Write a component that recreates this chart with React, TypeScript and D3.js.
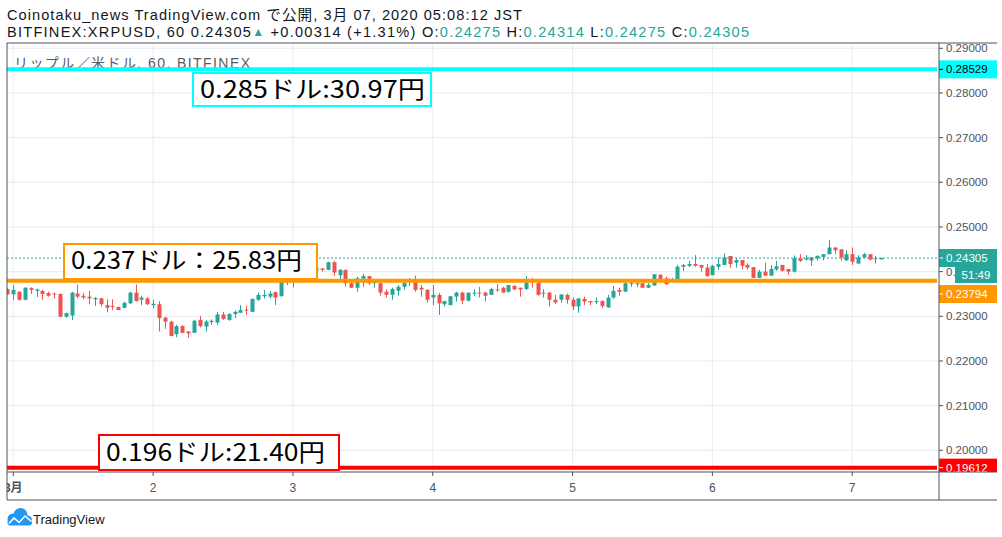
import React from "react";
import * as d3 from "d3";

// Hourly candles, first one = Feb 29 23:00 JST (hour -1 relative to Mar 1 00:00)
const FIRST_HOUR = -1;
const OPEN = [0.2361,0.2349,0.2355,0.2337,0.2363,0.2357,0.2357,0.2352,0.2351,0.2350,0.2299,0.2302,0.2351,0.2346,0.2344,0.2338,0.2340,0.2325,0.2323,0.2321,0.2319,0.2329,0.2353,0.2337,0.2340,0.2325,0.2327,0.2297,0.2288,0.2260,0.2278,0.2266,0.2263,0.2292,0.2277,0.2287,0.2286,0.2304,0.2292,0.2305,0.2308,0.2315,0.2310,0.2337,0.2345,0.2344,0.2354,0.2345,0.2385,0.2382,0.2383,0.2404,0.2398,0.2402,0.2407,0.2404,0.2421,0.2392,0.2404,0.2374,0.2364,0.2384,0.2390,0.2374,0.2374,0.2355,0.2348,0.2357,0.2366,0.2381,0.2383,0.2364,0.2359,0.2342,0.2348,0.2327,0.2325,0.2344,0.2353,0.2335,0.2352,0.2353,0.2353,0.2348,0.2360,0.2364,0.2355,0.2368,0.2364,0.2361,0.2383,0.2375,0.2352,0.2353,0.2337,0.2337,0.2348,0.2337,0.2322,0.2339,0.2334,0.2333,0.2334,0.2320,0.2342,0.2359,0.2355,0.2373,0.2373,0.2374,0.2364,0.2369,0.2393,0.2385,0.2380,0.2381,0.2411,0.2413,0.2417,0.2415,0.2409,0.2392,0.2411,0.2415,0.2435,0.2420,0.2426,0.2415,0.2410,0.2386,0.2400,0.2391,0.2405,0.2415,0.2406,0.2400,0.2430,0.2427,0.2425,0.2430,0.2433,0.2439,0.2454,0.2450,0.2425,0.2439,0.2418,0.2432,0.2439,0.2428,0.24275];
const HIGH = [0.2363,0.2370,0.2356,0.2365,0.2365,0.2362,0.2359,0.2355,0.2353,0.2351,0.2308,0.2355,0.2371,0.2352,0.2357,0.2343,0.2342,0.2338,0.2338,0.2321,0.2333,0.2355,0.2371,0.2346,0.2343,0.2337,0.2334,0.2299,0.2290,0.2281,0.2280,0.2267,0.2292,0.2301,0.2292,0.2293,0.2310,0.2310,0.2307,0.2313,0.2325,0.2323,0.2340,0.2353,0.2359,0.2357,0.2355,0.2392,0.2389,0.2389,0.2415,0.2419,0.2417,0.2420,0.2408,0.2422,0.2424,0.2406,0.2404,0.2375,0.2389,0.2395,0.2390,0.2381,0.2378,0.2360,0.2364,0.2370,0.2377,0.2386,0.2391,0.2370,0.2361,0.2370,0.2352,0.2334,0.2345,0.2355,0.2355,0.2353,0.2361,0.2366,0.2355,0.2364,0.2372,0.2366,0.2370,0.2370,0.2364,0.2390,0.2386,0.2378,0.2361,0.2355,0.2348,0.2349,0.2351,0.2342,0.2340,0.2344,0.2334,0.2342,0.2336,0.2348,0.2368,0.2364,0.2378,0.2378,0.2383,0.2374,0.2375,0.2394,0.2394,0.2389,0.2386,0.2415,0.2417,0.2424,0.2437,0.2415,0.2417,0.2415,0.2432,0.2441,0.2435,0.2430,0.2426,0.2419,0.2410,0.2404,0.2420,0.2415,0.2424,0.2415,0.2406,0.2436,0.2439,0.2437,0.2432,0.2437,0.2439,0.2471,0.2454,0.2450,0.2448,0.2454,0.2437,0.2442,0.2439,0.2435,0.24314];
const LOW = [0.2348,0.2337,0.2335,0.2336,0.2350,0.2343,0.2337,0.2344,0.2340,0.2299,0.2297,0.2292,0.2340,0.2338,0.2327,0.2323,0.2322,0.2309,0.2314,0.2314,0.2318,0.2327,0.2333,0.2325,0.2325,0.2318,0.2266,0.2272,0.2255,0.2253,0.2262,0.2252,0.2263,0.2275,0.2266,0.2281,0.2281,0.2292,0.2290,0.2296,0.2307,0.2303,0.2310,0.2335,0.2340,0.2340,0.2325,0.2344,0.2370,0.2365,0.2382,0.2395,0.2395,0.2392,0.2400,0.2403,0.2391,0.2381,0.2366,0.2363,0.2355,0.2366,0.2370,0.2364,0.2346,0.2342,0.2337,0.2346,0.2359,0.2368,0.2355,0.2344,0.2331,0.2325,0.2303,0.2322,0.2325,0.2333,0.2328,0.2333,0.2345,0.2342,0.2333,0.2348,0.2355,0.2353,0.2353,0.2360,0.2344,0.2359,0.2364,0.2346,0.2342,0.2322,0.2328,0.2330,0.2328,0.2314,0.2308,0.2325,0.2325,0.2327,0.2319,0.2319,0.2339,0.2346,0.2355,0.2366,0.2366,0.2364,0.2364,0.2369,0.2381,0.2370,0.2378,0.2381,0.2401,0.2410,0.2411,0.2400,0.2389,0.2392,0.2404,0.2415,0.2409,0.2409,0.2405,0.2405,0.2386,0.2386,0.2391,0.2391,0.2402,0.2400,0.2393,0.2398,0.2422,0.2425,0.2413,0.2425,0.2425,0.2439,0.2439,0.2425,0.2425,0.2415,0.2418,0.2430,0.2425,0.2418,0.24275];
const CLOSE = [0.2349,0.2359,0.2337,0.2364,0.2359,0.2360,0.2350,0.2346,0.2349,0.2299,0.2307,0.2353,0.2344,0.2342,0.2340,0.2341,0.2327,0.2319,0.2322,0.2314,0.2330,0.2353,0.2334,0.2342,0.2327,0.2328,0.2296,0.2288,0.2256,0.2278,0.2263,0.2262,0.2290,0.2278,0.2288,0.2290,0.2304,0.2294,0.2305,0.2310,0.2314,0.2313,0.2339,0.2348,0.2348,0.2351,0.2342,0.2385,0.2382,0.2385,0.2404,0.2396,0.2406,0.2410,0.2404,0.2421,0.2398,0.2404,0.2374,0.2364,0.2385,0.2390,0.2374,0.2377,0.2353,0.2348,0.2361,0.2366,0.2375,0.2383,0.2359,0.2360,0.2337,0.2348,0.2329,0.2334,0.2345,0.2353,0.2335,0.2353,0.2353,0.2352,0.2346,0.2361,0.2359,0.2353,0.2370,0.2360,0.2360,0.2375,0.2378,0.2348,0.2353,0.2337,0.2331,0.2349,0.2337,0.2322,0.2340,0.2333,0.2331,0.2334,0.2323,0.2342,0.2357,0.2355,0.2374,0.2374,0.2374,0.2364,0.2370,0.2394,0.2381,0.2372,0.2381,0.2411,0.2415,0.2417,0.2413,0.2409,0.2390,0.2413,0.2417,0.2432,0.2417,0.2426,0.2413,0.2409,0.2386,0.2400,0.2391,0.2406,0.2412,0.2402,0.2400,0.2430,0.2424,0.2430,0.2432,0.2435,0.2439,0.2454,0.2448,0.2432,0.2439,0.2422,0.2432,0.2439,0.2427,0.2430,0.24305];

const DAY_HOURS = [0, 24, 48, 72, 96, 120, 144];
const DAY_LABELS = ["3月", "2", "3", "4", "5", "6", "7"];

const LEVEL_PRICES = [0.28529, 0.23794, 0.19612];
const LEVEL_NOTES = ["0.285ドル:30.97円", "0.237ドル：25.83円", "0.196ドル:21.40円"];
const LAST_PRICE = 0.24305;
const COUNTDOWN = "51:49";

const HEADER_1 = "Coinotaku_news TradingView.com で公開, 3月 07, 2020 05:08:12 JST";
const SYMBOL = "BITFINEX:XRPUSD, 60";
const CHANGE = "+0.00314 (+1.31%)";
const OHLC_LABELS = ["O:", "H:", "L:", "C:"];
const OHLC_VALUES = ["0.24275", "0.24314", "0.24275", "0.24305"];
const PANE_TITLE = "リップル／米ドル, 60, BITFINEX";

const UP = "#26a69a";
const DOWN = "#ef5350";
const GRID = "#e4ecf2";
const BORDER = "#50535e";
const AXIS_TEXT = "#4c525e";
const FONT = "'Liberation Sans', Arial, 'Noto Sans CJK JP', sans-serif";
const JP_FONT = "'Noto Sans CJK JP', sans-serif";

const L = 7, R = 939, T = 43, B = 472, AXB = 500, AXR = 997;

export default function App() {
  const x = d3.scaleLinear().domain([-1.08, 158.9]).range([L, R]);
  const y = d3.scaleLinear().domain([0.2, 0.29]).range([450.3, 48.3]);
  const yTicks = y.ticks(10);
  const fmt = d3.format(".5f");
  const bw = 4;

  const candles = OPEN.map((o, i) => ({
    h: FIRST_HOUR + i, o, hi: HIGH[i], lo: LOW[i], c: CLOSE[i],
  }));

  const levelColors = ["#00ffff", "#ff9800", "#ff0000"];
  const levelTextColors = ["#000000", "#ffffff", "#ffffff"];
  // annotation boxes: [x, y, w, h, textBaseline]
  const noteBoxes = [
    [193, 73, 238, 33, 98],
    [64, 244, 253, 35, 269],
    [99, 435, 240, 35, 461],
  ];
  const noteTextW = [225, 231, 219];

  const yLast = y(LAST_PRICE);
  const labelY = [y(LEVEL_PRICES[0]), Math.max(y(LEVEL_PRICES[1]), yLast + 36), y(LEVEL_PRICES[2])];

  return (
    <svg width={1002} height={537} style={{ position: "absolute", left: 0, top: 0, background: "#fff" }} fontFamily={FONT}>
      <defs>
        <clipPath id="plot"><rect x={L} y={T} width={R - L} height={B - T} /></clipPath>
        <clipPath id="axisclip"><rect x={R} y={T} width={AXR - R + 5} height={B - T} /></clipPath>
        <clipPath id="timeclip"><rect x={L} y={B} width={R - L} height={AXB - B} /></clipPath>
      </defs>

      {/* header */}
      <text x={7} y={20} fontSize={14.6} fill="#131722"
        textLength={515} lengthAdjust="spacing">{HEADER_1}</text>
      <text x={7} y={37} fontSize={14.6} fill="#131722"
        textLength={742} lengthAdjust="spacing">
        {SYMBOL} {OHLC_VALUES[3]}
        <tspan fill={UP} fontSize={12} dy={-1}>▲</tspan>
        <tspan dy={1}> {CHANGE} </tspan>
        {OHLC_LABELS.map((l, i) => (
          <React.Fragment key={l}>
            <tspan>{i > 0 ? " " : ""}{l}</tspan>
            <tspan fill={UP}>{OHLC_VALUES[i]}</tspan>
          </React.Fragment>
        ))}
      </text>

      {/* grid */}
      <g clipPath="url(#plot)">
        {yTicks.map((t) => (
          <line key={t} x1={L} x2={R} y1={y(t)} y2={y(t)} stroke={GRID} strokeWidth={1} />
        ))}
        {DAY_HOURS.map((h) => (
          <line key={h} x1={x(h)} x2={x(h)} y1={T} y2={B} stroke={GRID} strokeWidth={1} />
        ))}
      </g>

      {/* pane title */}
      <text x={14} y={68} fontSize={14} fill="#575b66"
        textLength={236} lengthAdjust="spacing">{PANE_TITLE}</text>

      <g clipPath="url(#plot)">
        {/* last price dotted */}
        <line x1={L} x2={R} y1={yLast} y2={yLast} stroke={UP} strokeWidth={1} strokeDasharray="2,2" />
        {/* candles */}
        {candles.map((d) => {
          const col = d.c >= d.o ? UP : DOWN;
          const top = y(Math.max(d.o, d.c));
          const bot = y(Math.min(d.o, d.c));
          const cx = Math.round(x(d.h)) + 0.5;
          return (
            <g key={d.h}>
              <line x1={cx} x2={cx} y1={y(d.hi)} y2={y(d.lo)} stroke={col} strokeWidth={1} />
              <rect x={cx - bw / 2} y={top} width={bw} height={Math.max(1, bot - top)} fill={col} />
            </g>
          );
        })}
        {/* horizontal levels */}
        {LEVEL_PRICES.map((p, i) => (
          <line key={p} x1={L} x2={R - 2} y1={y(p)} y2={y(p)} stroke={levelColors[i]} strokeWidth={4} />
        ))}
        {/* annotation notes */}
        {LEVEL_NOTES.map((n, i) => {
          const [bx, by, bwid, bh, base] = noteBoxes[i];
          return (
            <g key={n}>
              <rect x={bx} y={by} width={bwid} height={bh} fill="#ffffff" stroke={levelColors[i]} strokeWidth={2} />
              <text x={bx + 7} y={base} fontSize={24} fill="#000" fontFamily={JP_FONT}
                textLength={noteTextW[i]} lengthAdjust="spacingAndGlyphs">{n}</text>
            </g>
          );
        })}
      </g>

      {/* price axis */}
      <g clipPath="url(#axisclip)">
        {yTicks.map((t) => (
          <g key={t}>
            <line x1={R} x2={R + 4} y1={y(t)} y2={y(t)} stroke={BORDER} />
            <text x={946} y={y(t) + 4} fontSize={11.5} fill={AXIS_TEXT}>{fmt(t)}</text>
          </g>
        ))}
        <rect x={R} y={yLast - 9} width={AXR - R} height={18} fill={UP} />
        <line x1={R} x2={R + 4} y1={yLast} y2={yLast} stroke="#fff" />
        <text x={946} y={yLast + 4} fontSize={11.5} fill="#fff">{fmt(LAST_PRICE)}</text>
        <rect x={955} y={yLast + 9} width={AXR - 955} height={16} fill={UP} />
        <text x={976} y={yLast + 21} fontSize={11.5} fill="#fff" textAnchor="middle">{COUNTDOWN}</text>
        {LEVEL_PRICES.map((p, i) => (
          <g key={p}>
            <rect x={R} y={labelY[i] - 9} width={AXR - R} height={18} fill={levelColors[i]} />
            <line x1={R} x2={R + 4} y1={labelY[i]} y2={labelY[i]} stroke={levelTextColors[i]} />
            <text x={946} y={labelY[i] + 4} fontSize={11.5} fill={levelTextColors[i]}>{fmt(p)}</text>
          </g>
        ))}
      </g>

      {/* time axis */}
      <g clipPath="url(#timeclip)">
        {DAY_HOURS.map((h, i) => (
          <g key={h}>
            <line x1={x(h)} x2={x(h)} y1={B} y2={B + 4} stroke={BORDER} />
            <text x={x(h)} y={492} fontSize={12} fill={AXIS_TEXT} textAnchor="middle"
              fontWeight={i === 0 ? "bold" : "normal"}>{DAY_LABELS[i]}</text>
          </g>
        ))}
      </g>

      {/* frame */}
      <line x1={L} x2={AXR} y1={T} y2={T} stroke={BORDER} />
      <line x1={L} x2={AXR} y1={B} y2={B} stroke={BORDER} />
      <line x1={L} x2={AXR} y1={AXB} y2={AXB} stroke={BORDER} />
      <line x1={L} x2={L} y1={T} y2={AXB} stroke={BORDER} />
      <line x1={R} x2={R} y1={T} y2={AXB} stroke={BORDER} />

      {/* logo */}
      <g fill="#2196f3">
        <circle cx={13} cy={519} r={5.5} />
        <circle cx={20.5} cy={515} r={7} />
        <circle cx={27.5} cy={520} r={4.5} />
        <rect x={7.5} y={519} width={24.5} height={6.5} rx={3} />
      </g>
      <polyline points="9,523.5 14,518 19,522.5 25,516 31.5,521.5" fill="none" stroke="#fff" strokeWidth={1.6} />
      <text x={33} y={523.5} fontSize={13} fill="#131722">TradingView</text>
    </svg>
  );
}
